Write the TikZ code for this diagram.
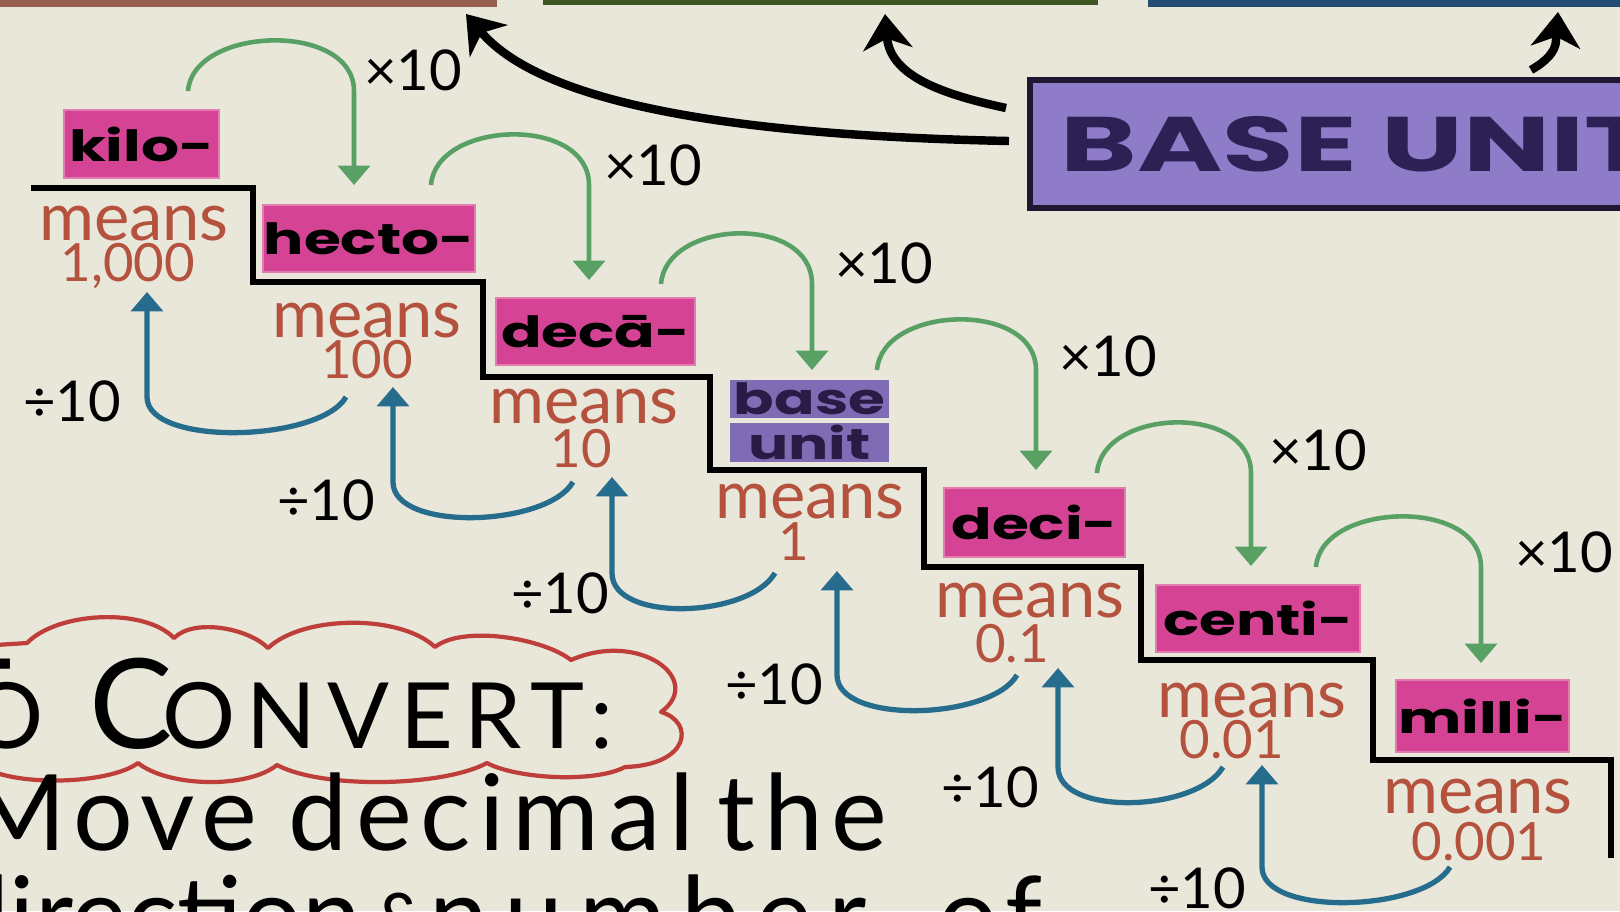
\documentclass[tikz,border=0pt]{standalone}
\usepackage{fontspec}
\usepackage{graphicx}
\setmainfont{Lato}
\newfontfamily\boxfont{Poppins}
\newfontfamily\handfont{Lato}
\usetikzlibrary{arrows.meta}
\definecolor{paper}{RGB}{233,230,218}
\definecolor{pinkc}{RGB}{213,68,148}
\definecolor{pinkd}{RGB}{226,125,178}
\definecolor{purpc}{RGB}{128,108,180}
\definecolor{purptext}{RGB}{40,28,70}
\definecolor{bigpurp}{RGB}{142,124,200}
\definecolor{bigborder}{RGB}{30,24,50}
\definecolor{bigtext}{RGB}{45,32,85}
\definecolor{meansc}{RGB}{180,82,62}
\definecolor{greenc}{RGB}{88,160,100}
\definecolor{bluec}{RGB}{38,108,140}
\definecolor{cloudc}{RGB}{190,62,58}
\definecolor{barL}{RGB}{150,95,80}
\definecolor{barM}{RGB}{60,85,35}
\definecolor{barR}{RGB}{35,75,115}
\newcommand\sqz[1]{\scalebox{1}[0.72]{#1}}
\tikzset{
  prefbox/.style={fill=pinkc, draw=pinkd, line width=0.6pt, inner sep=0pt, text=black,
    font=\boxfont\bfseries\fontsize{17pt}{17pt}\selectfont},
  basebox/.style={fill=purpc, draw=none, inner sep=0pt, text=purptext,
    font=\boxfont\bfseries\fontsize{17pt}{17pt}\selectfont},
  meanslab/.style={text=meansc, font=\handfont\fontsize{19pt}{19pt}\selectfont, anchor=base, inner sep=0pt},
  numlab/.style={text=meansc, font=\handfont\fontsize{15pt}{15pt}\selectfont, anchor=base, inner sep=0pt},
  oplab/.style={text=black, font=\handfont\fontsize{16pt}{16pt}\selectfont, inner sep=0pt},
  garrow/.style={draw=greenc, line width=1.3pt, -{Triangle[width=9pt,length=5.5pt]}},
  barrow/.style={draw=bluec, line width=1.5pt, -{Triangle[width=9pt,length=5.5pt]}},
  karrow/.style={draw=black, line width=2.4pt, -{Stealth[width=14pt,length=10pt,inset=3pt]}},
  stair/.style={draw=black, line width=1.5pt, line join=miter},
  bigtxt/.style={text=black, font=\handfont\fontsize{30pt}{30pt}\selectfont\addfontfeatures{LetterSpace=8}, inner sep=0pt},
}
\begin{document}
\begin{tikzpicture}[x=0.01cm,y=-0.01cm]
\useasboundingbox (0,0) rectangle (1620,911);
\clip (0,0) rectangle (1620,911);
\fill[paper] (0,0) rectangle (1620,911);

% top bars (edges of boxes above)
\node[fill=barL, inner sep=0pt, minimum width=5.06cm, minimum height=0.12cm, anchor=north west] (barl) at (-10,-6) {};
\node[fill=barM, inner sep=0pt, minimum width=5.55cm, minimum height=0.10cm, anchor=north west] (barm) at (542,-6) {};
\node[fill=barR, inner sep=0pt, minimum width=4.90cm, minimum height=0.12cm, anchor=north west] (barr) at (1147,-6) {};

% BASE UNIT box
\node[fill=bigpurp, draw=bigborder, line width=1.6pt, inner xsep=0.31cm, inner ysep=0pt,
      minimum height=1.28cm, anchor=west, text=bigtext,
      font=\boxfont\bfseries\fontsize{22pt}{22pt}\selectfont] (BU) at (1027,144)
      {\scalebox{1.5}[1]{BASE UNIT}\hspace{1cm}};

% black arrows to the boxes above
\coordinate (k1s) at (1009,141);
\coordinate (k1t) at (466,14);
\coordinate (k2s) at (1006,108);
\coordinate (k2t) at (885,14);
\coordinate (k3s) at (1531,70);
\coordinate (k3m) at (1556,40);
\coordinate (k3t) at (1558,12);
\draw[karrow] (k1s) .. controls +(-250,-5) and +(80,95) .. (k1t);
\draw[karrow] (k2s) .. controls +(-70,-15) and +(5,60) .. (k2t);
\draw[karrow] (k3s) .. controls +(14,-8) and +(0,12) .. (k3m) -- (k3t);

% staircase
\draw[stair] (31,188) -| (253,282) -| (483,377) -| (710,470) -| (924,567) -| (1141,660) -| (1373,760) -| (1611,858);

% prefix boxes
\node[prefbox, minimum width=1.55cm, minimum height=0.68cm] (kilo) at (141.5,144) {\sqz{kilo-}};
\node[prefbox, minimum width=2.12cm, minimum height=0.67cm] (hecto) at (369,238.5) {\sqz{hecto-}};
\node[prefbox, minimum width=1.99cm, minimum height=0.67cm] (deca) at (595.5,331.5) {\sqz{decā-}};
\node[basebox, minimum width=1.59cm, minimum height=0.38cm] (base) at (809.5,399) {\sqz{base}};
\node[basebox, minimum width=1.59cm, minimum height=0.39cm] (unit) at (809.5,442.5) {\sqz{unit}};
\node[prefbox, minimum width=1.81cm, minimum height=0.69cm] (deci) at (1034.5,522.5) {\sqz{deci-}};
\node[prefbox, minimum width=2.04cm, minimum height=0.67cm] (centi) at (1258,618.5) {\sqz{centi-}};
\node[prefbox, minimum width=1.73cm, minimum height=0.72cm] (milli) at (1482.5,716) {\sqz{milli-}};

% means labels
\node[meanslab] (m1) at (134,240) {means};
\node[numlab]   (n1) at (128,281) {1,000};
\node[meanslab] (m2) at (367,337) {means};
\node[numlab]   (n2) at (367,378) {100};
\node[meanslab] (m3) at (584,423) {means};
\node[numlab]   (n3) at (581,467) {10};
\node[meanslab] (m4) at (810,518) {means};
\node[numlab]   (n4) at (794,560) {1};
\node[meanslab] (m5) at (1030,617) {means};
\node[numlab]   (n5) at (1012,662) {0.1};
\node[meanslab] (m6) at (1252,717) {means};
\node[numlab]   (n6) at (1232,758) {0.01};
\node[meanslab] (m7) at (1478,813) {means};
\node[numlab]   (n7) at (1479,860) {0.001};

% x10 green arrows
\coordinate (g1s) at (188,91);   \coordinate (g1t) at (354,185);
\coordinate (g2s) at (431,185);  \coordinate (g2t) at (589,280);
\coordinate (g3s) at (661,284);  \coordinate (g3t) at (812,370);
\coordinate (g4s) at (877,370);  \coordinate (g4t) at (1036,470);
\coordinate (g5s) at (1097,473); \coordinate (g5t) at (1251,566);
\coordinate (g6s) at (1316,567); \coordinate (g6t) at (1481,663);
\foreach \i in {1,...,6}{
  \draw[garrow] (g\i s) .. controls +(5,-65) and +(0,-70) .. (g\i t |- g\i s) -- (g\i t);
}
\node[oplab] (x1) at (413,70) {×10};
\node[oplab] (x2) at (653,165) {×10};
\node[oplab] (x3) at (884,263) {×10};
\node[oplab] (x4) at (1108,356) {×10};
\node[oplab] (x5) at (1318,450) {×10};
\node[oplab] (x6) at (1564,552) {×10};

% divide blue arrows
\coordinate (b1s) at (346,397);  \coordinate (b1t) at (147,292);
\coordinate (b2s) at (573,482);  \coordinate (b2t) at (393,387);
\coordinate (b3s) at (775,573);  \coordinate (b3t) at (612,477);
\coordinate (b4s) at (1017,675); \coordinate (b4t) at (837,571);
\coordinate (b5s) at (1223,767); \coordinate (b5t) at (1058,668);
\coordinate (b6s) at (1450,867); \coordinate (b6t) at (1262,765);
\foreach \i in {1,...,6}{
  \draw[barrow] (b\i s) .. controls +(-26,45) and +(0,50) .. (b\i t |- b\i s) -- (b\i t);
}
\node[oplab] (d1) at (72,401) {÷10};
\node[oplab] (d2) at (326,500) {÷10};
\node[oplab] (d3) at (560,593) {÷10};
\node[oplab] (d4) at (774,684) {÷10};
\node[oplab] (d5) at (990,787) {÷10};
\node[oplab] (d6) at (1197,888) {÷10};

% cloud around "TO CONVERT:"
\draw[cloudc, line width=1.2pt, line join=round]
  (-20,646) -- (27,643)
  .. controls +(30,-31) and +(-30,-31) .. (174,638)
  .. controls +(20,-20) and +(-20,-20) .. (268,648)
  .. controls +(35,-33) and +(-35,-33) .. (435,647)
  .. controls +(28,-22) and +(-28,-22) .. (571,660)
  .. controls (640,630) and (705,680) .. (661,712)
  .. controls (695,722) and (690,765) .. (625,767)
  .. controls +(-30,16) and +(30,16) .. (487,763)
  .. controls +(-45,24) and +(45,24) .. (277,765)
  .. controls +(-30,24) and +(30,24) .. (138,763)
  .. controls +(-30,22) and +(30,22) .. (-20,765);

% text at the bottom
\node[text=black, inner sep=0pt, anchor=base east, font=\handfont] (to) at (44,748)
  {{\fontsize{35.5pt}{36pt}\selectfont T}\kern-12pt{\fontsize{26pt}{26pt}\selectfont O}};
\node[text=black, inner sep=0pt, anchor=base west, font=\handfont\addfontfeatures{LetterSpace=12}] (conv) at (89,748)
  {{\fontsize{35.5pt}{36pt}\selectfont C}\kern-3pt{\fontsize{26pt}{26pt}\selectfont ONVERT:}};
\node[bigtxt, anchor=base east] (w1) at (258,850) {Move};
\node[bigtxt, anchor=base west] (w2) at (288,850) {decimal};
\node[bigtxt, anchor=base west] (w3) at (717,850) {the};
\node[text=black, inner sep=0pt, font=\handfont\fontsize{30pt}{30pt}\selectfont, anchor=base east] (w4) at (362,952) {direction};
\node[text=black, inner sep=0pt, font=\handfont\fontsize{21pt}{21pt}\selectfont, anchor=base west] (w5) at (374,946) {\&};
\node[text=black, inner sep=0pt, font=\handfont\fontsize{30pt}{30pt}\selectfont\addfontfeatures{LetterSpace=15}, anchor=base west] (w6) at (429,952) {number};
\node[bigtxt, anchor=base west] (w7) at (938,952) {of};
\end{tikzpicture}
\end{document}
